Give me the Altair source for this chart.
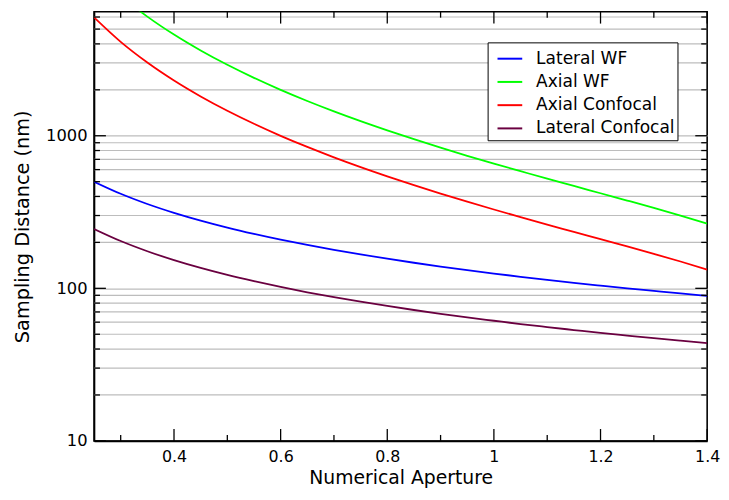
import altair as alt
import pandas as pd

# ---- data ----
na = [0.25, 0.30, 0.35, 0.40, 0.45, 0.50, 0.55, 0.60, 0.65, 0.70, 0.75, 0.80,
      0.85, 0.90, 0.95, 1.00, 1.05, 1.10, 1.15, 1.20, 1.25, 1.30, 1.35, 1.40]
lateral_wf = [500, 416.7, 357.1, 312.5, 277.8, 250, 227.3, 208.3, 192.3, 178.6, 166.7, 156.3,
              147.1, 138.9, 131.6, 125, 119.0, 113.6, 108.7, 104.2, 100, 96.2, 92.6, 89.3]
axial_wf = [11930, 8247, 6038, 4603, 3620, 2916, 2395, 1998, 1689, 1444, 1246, 1084,
            949, 836, 739, 657, 586, 523, 469, 419.8, 376.1, 336.4, 299.8, 265.2]
axial_confocal = [5965, 4123.5, 3019, 2301.5, 1810, 1458, 1197.5, 999, 844.5, 722, 623, 542,
                  474.5, 418, 369.5, 328.5, 293, 261.5, 234.5, 209.9, 188.1, 168.2, 149.9, 132.6]
lateral_confocal = [245, 204.2, 175, 153.1, 136.1, 122.5, 111.4, 102.1, 94.2, 87.5, 81.7, 76.6,
                    72.1, 68.1, 64.5, 61.3, 58.3, 55.7, 53.3, 51.0, 49.0, 47.1, 45.4, 43.8]

series_names = ["Lateral WF", "Axial WF", "Axial Confocal", "Lateral Confocal"]
series_colors = ["#0000ff", "#00ff00", "#ff0000", "#6a0040"]

x_major = [0.4, 0.6, 0.8, 1.0, 1.2, 1.4]
x_minor = [0.3, 0.5, 0.7, 0.9, 1.1, 1.3]
y_major = [10, 100, 1000]
y_minor = [20, 30, 40, 50, 60, 70, 80, 90,
           200, 300, 400, 500, 600, 700, 800, 900,
           2000, 3000, 4000, 5000, 6000]

x_domain = [0.25, 1.4]
y_domain = [10, 6500]

W, H = 620, 434
MAJ, MIN = 12, 6
FONT = "DejaVu Sans"
GRID = "#bdbdbd"

rows = []
for name, vals in zip(series_names, [lateral_wf, axial_wf, axial_confocal, lateral_confocal]):
    for a, v in zip(na, vals):
        rows.append({"NA": a, "value": v, "series": name})
df = pd.DataFrame(rows)

xscale = alt.Scale(domain=x_domain, nice=False, zero=False)
yscale = alt.Scale(type="log", domain=y_domain, nice=False)

xaxis = alt.Axis(title="Numerical Aperture", values=x_major, format="~g",
                 ticks=False, grid=False, labelPadding=8, titlePadding=4,
                 labelFontSize=16, titleFontSize=19, labelFlush=False,
                 labelOverlap=False)
yaxis = alt.Axis(title="Sampling Distance (nm)", values=y_major, format="d",
                 ticks=False, grid=True, gridColor=GRID, gridWidth=1.2,
                 labelPadding=7, titlePadding=13, labelFontSize=16.5,
                 titleFontSize=19.5, labelOverlap=False)

minor_grid = alt.Chart(pd.DataFrame({"v": y_minor})).mark_rule(
    color=GRID, strokeWidth=1.2
).encode(y=alt.Y("v:Q", scale=yscale, axis=yaxis), x=alt.value(0), x2=alt.value(W))

lines = alt.Chart(df).mark_line(clip=True, strokeWidth=1.8, interpolate="monotone").encode(
    x=alt.X("NA:Q", scale=xscale, axis=xaxis),
    y=alt.Y("value:Q", scale=yscale, axis=yaxis),
    color=alt.Color("series:N",
                    scale=alt.Scale(domain=series_names, range=series_colors),
                    legend=alt.Legend(title=None, orient="none", legendX=398, legendY=31,
                                      symbolType="stroke", symbolSize=625,
                                      symbolStrokeWidth=2, symbolOffset=6,
                                      labelFontSize=17.2, labelOffset=13, rowPadding=1.5,
                                      strokeColor="black", fillColor="white",
                                      padding=3, labelFont=FONT)),
)

def xticks(vals, length):
    d = pd.DataFrame({"v": vals})
    b = alt.Chart(d).mark_rule(color="black", strokeWidth=1.3).encode(
        x=alt.X("v:Q", scale=xscale, axis=xaxis), y=alt.value(H), y2=alt.value(H - length))
    t = alt.Chart(d).mark_rule(color="black", strokeWidth=1.3).encode(
        x=alt.X("v:Q", scale=xscale, axis=xaxis), y=alt.value(0), y2=alt.value(length))
    return [b, t]

def yticks(vals, length):
    d = pd.DataFrame({"v": vals})
    l = alt.Chart(d).mark_rule(color="black", strokeWidth=1.3).encode(
        y=alt.Y("v:Q", scale=yscale, axis=yaxis), x=alt.value(0), x2=alt.value(length))
    r = alt.Chart(d).mark_rule(color="black", strokeWidth=1.3).encode(
        y=alt.Y("v:Q", scale=yscale, axis=yaxis), x=alt.value(W), x2=alt.value(W - length))
    return [l, r]

layers = ([minor_grid, lines] + xticks(x_major, MAJ) + xticks(x_minor, MIN)
          + yticks(y_major, MAJ) + yticks(y_minor, MIN))

chart = alt.layer(*layers).properties(
    width=W, height=H,
    autosize=alt.AutoSizeParams(type="none"),
    padding={"left": 87, "top": 1, "right": 14, "bottom": 56},
).configure_view(
    stroke="black", strokeWidth=1.6
).configure_axis(
    labelFont=FONT, titleFont=FONT, labelColor="black", titleColor="black",
    titleFontWeight="normal", domainColor="black", domainWidth=1.6
).configure_legend(labelColor="black")

chart.save("out.html", embed_options={"renderer": "svg", "actions": False})
